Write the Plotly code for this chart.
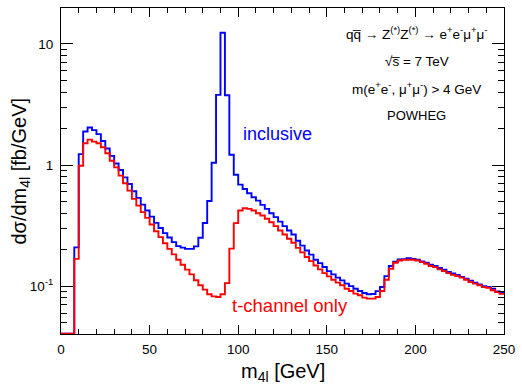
import plotly.graph_objects as go

# bin edges (GeV): 0, 2.5, ..., 250
bin_width = 2.5
n_bins = 100
x_max = 250

inclusive = [
    0.0405, 0.0405, 0.0405, 0.209, 1.23, 1.89, 2.04, 1.94, 1.80, 1.58,
    1.37, 1.19, 1.03, 0.909, 0.791, 0.697, 0.607, 0.535, 0.471, 0.421,
    0.375, 0.333, 0.302, 0.274, 0.252, 0.231, 0.214, 0.208, 0.203, 0.203,
    0.213, 0.251, 0.332, 0.505, 1.045, 3.79, 12.35, 3.77, 1.216, 0.83,
    0.689, 0.634, 0.584, 0.542, 0.508, 0.469, 0.434, 0.40, 0.371, 0.341,
    0.313, 0.288, 0.267, 0.237, 0.216, 0.197, 0.182, 0.165, 0.155, 0.144,
    0.133, 0.125, 0.1175, 0.1116, 0.105, 0.100, 0.0953, 0.0912, 0.0878, 0.0857,
    0.0862, 0.0909, 0.0984, 0.121, 0.1465, 0.159, 0.166, 0.167, 0.170, 0.168,
    0.165, 0.160, 0.156, 0.150, 0.1465, 0.141, 0.137, 0.131, 0.127, 0.124,
    0.119, 0.115, 0.111, 0.107, 0.1035, 0.100, 0.0984, 0.0953, 0.0906, 0.0883,
]

t_channel = [
    0.0405, 0.0405, 0.0405, 0.168, 0.987, 1.51, 1.62, 1.56, 1.51, 1.40,
    1.25, 1.085, 0.956, 0.817, 0.706, 0.614, 0.525, 0.462, 0.408, 0.366,
    0.323, 0.284, 0.254, 0.226, 0.203, 0.183, 0.165, 0.150, 0.137, 0.125,
    0.112, 0.1016, 0.0936, 0.0857, 0.0824, 0.0814, 0.0857, 0.106, 0.204, 0.331,
    0.421, 0.44, 0.434, 0.421, 0.40, 0.383, 0.36, 0.337, 0.313, 0.288,
    0.267, 0.246, 0.228, 0.207, 0.19, 0.174, 0.161, 0.148, 0.1375, 0.128,
    0.1205, 0.113, 0.107, 0.1016, 0.0953, 0.0912, 0.0868, 0.084, 0.0804, 0.0789,
    0.0789, 0.0814, 0.0912, 0.113, 0.139, 0.156, 0.163, 0.165, 0.165, 0.165,
    0.163, 0.158, 0.153, 0.1465, 0.1436, 0.1375, 0.133, 0.128, 0.124, 0.121,
    0.1175, 0.113, 0.108, 0.105, 0.1016, 0.0984, 0.0967, 0.0925, 0.0895, 0.0864,
]

x_tickvals = [0, 50, 100, 150, 200, 250]
y_tickvals = [0.1, 1, 10]
y_ticktext = ["10<sup>-1</sup>", "1", "10"]
y_minor = [0.05, 0.06, 0.07, 0.08, 0.09, 0.2, 0.3, 0.4, 0.5, 0.6, 0.7, 0.8, 0.9,
           2, 3, 4, 5, 6, 7, 8, 9]

edges = [i * bin_width for i in range(n_bins)] + [x_max]

FONT = "Liberation Sans, Arial, Helvetica, sans-serif"

fig = go.Figure()
fig.add_trace(go.Scatter(x=edges, y=inclusive + [inclusive[-1]], mode="lines",
                         line=dict(color="#0000ff", width=1.9, shape="hv"),
                         showlegend=False, hoverinfo="skip"))
fig.add_trace(go.Scatter(x=edges, y=t_channel + [t_channel[-1]], mode="lines",
                         line=dict(color="#ff0000", width=1.9, shape="hv"),
                         showlegend=False, hoverinfo="skip"))

fig.update_layout(
    width=522, height=384,
    margin=dict(l=61, r=12, t=7, b=50),
    paper_bgcolor="white", plot_bgcolor="white",
    font=dict(family=FONT, color="black"),
)
fig.update_xaxes(
    range=[0, 250], showgrid=False, zeroline=False,
    showline=True, linecolor="black", linewidth=1, mirror="allticks",
    ticks="inside", ticklen=9, tickwidth=1, tickcolor="black",
    tickmode="array", tickvals=x_tickvals,
    tickfont=dict(size=13.5, family=FONT), ticklabelstandoff=3,
    minor=dict(ticks="inside", ticklen=5, tickwidth=1, tickcolor="black", dtick=10, showgrid=False),
)
fig.update_yaxes(
    type="log", range=[-1.395, 1.296], showgrid=False, zeroline=False,
    showline=True, linecolor="black", linewidth=1, mirror="allticks",
    ticks="inside", ticklen=12, tickwidth=1, tickcolor="black",
    tickmode="array", tickvals=y_tickvals, ticktext=y_ticktext,
    tickfont=dict(size=13.5, family=FONT), ticklabelstandoff=4,
    minor=dict(ticks="inside", ticklen=6, tickwidth=1, tickcolor="black",
               tickmode="array", tickvals=y_minor, showgrid=False),
)

ann = [
    dict(x=122, y=0.258, text="inclusive", font=dict(size=18, color="#0000ff")),
    dict(x=129, y=-1.158, text="t-channel only", font=dict(size=18.5, color="#ff0000")),
    dict(x=200.8, y=1.089,
         text="qq\u0305 \u2192 Z<sup>(*)</sup>Z<sup>(*)</sup> \u2192 e<sup>+</sup>e<sup>-</sup>\u03bc<sup>+</sup>\u03bc<sup>-</sup>",
         font=dict(size=13.5)),
    dict(x=200.8, y=0.858, text="\u221As\u0305 = 7 TeV", font=dict(size=13.5)),
    dict(x=200.8, y=0.636,
         text="m(e<sup>+</sup>e<sup>-</sup>, \u03bc<sup>+</sup>\u03bc<sup>-</sup>) > 4 GeV",
         font=dict(size=13.5)),
    dict(x=200.8, y=0.406, text="POWHEG", font=dict(size=13)),
]
for a in ann:
    fig.add_annotation(xref="x", yref="y", showarrow=False, xanchor="center",
                       yanchor="middle", **a)

fig.add_annotation(xref="paper", yref="paper", x=0.5, y=-0.119, showarrow=False,
                   text="m<sub>4l</sub> [GeV]", font=dict(size=20),
                   xanchor="center", yanchor="middle")
fig.add_annotation(xref="paper", yref="paper", x=-0.0935, y=0.5, showarrow=False,
                   text="d\u03c3/dm<sub>4l</sub> [fb/GeV]", font=dict(size=20),
                   textangle=-90, xanchor="center", yanchor="middle")

fig.write_html("out.html")
